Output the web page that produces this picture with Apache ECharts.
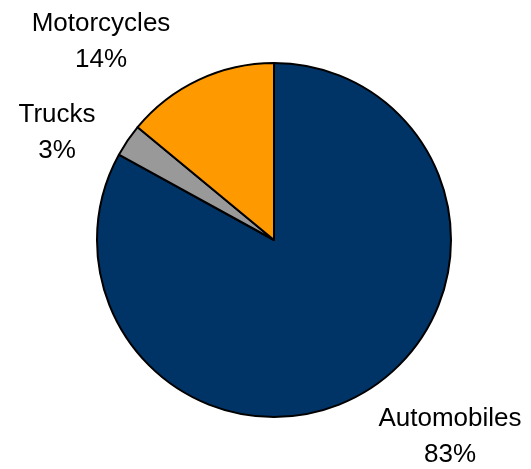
<!DOCTYPE html>
<html>
<head>
<meta charset="utf-8">
<script src="https://cdn.jsdelivr.net/npm/echarts@6/dist/echarts.min.js"></script>
<style>
  html, body { margin: 0; padding: 0; background: #fff; }
  #main { width: 531px; height: 469px; }
</style>
</head>
<body>
<div id="main"></div>
<script>
// data
const categories = ['Automobiles', 'Trucks', 'Motorcycles']
const shares = [83, 3, 14]
const colors = ['#003366', '#999999', '#FF9900']
// label centres
const labelSpots = [[450, 437], [57, 133], [101, 42]]

const myChart = echarts.init(document.getElementById('main'))

const option = {
  animation: false,
  series: [
    {
      type: 'pie',
      center: [274, 240],
      radius: 177,
      startAngle: 90,
      clockwise: true,
      itemStyle: {
        borderColor: '#000',
        borderWidth: 2
      },
      label: {
        show: true,
        formatter: '{b}\n{c}%',
        fontFamily: 'Liberation Sans, Arial, sans-serif',
        fontSize: 26,
        lineHeight: 36,
        color: '#000',
        align: 'center',
        overflow: 'none'
      },
      labelLine: { show: false },
      labelLayout: function (params) {
        const p = labelSpots[params.dataIndex]
        return { x: p[0], y: p[1], align: 'center', verticalAlign: 'middle' }
      },
      emphasis: { disabled: true },
      data: categories.map(function (name, i) {
        return { name: name, value: shares[i], itemStyle: { color: colors[i] } }
      })
    }
  ]
}

myChart.setOption(option)
</script>
</body>
</html>
